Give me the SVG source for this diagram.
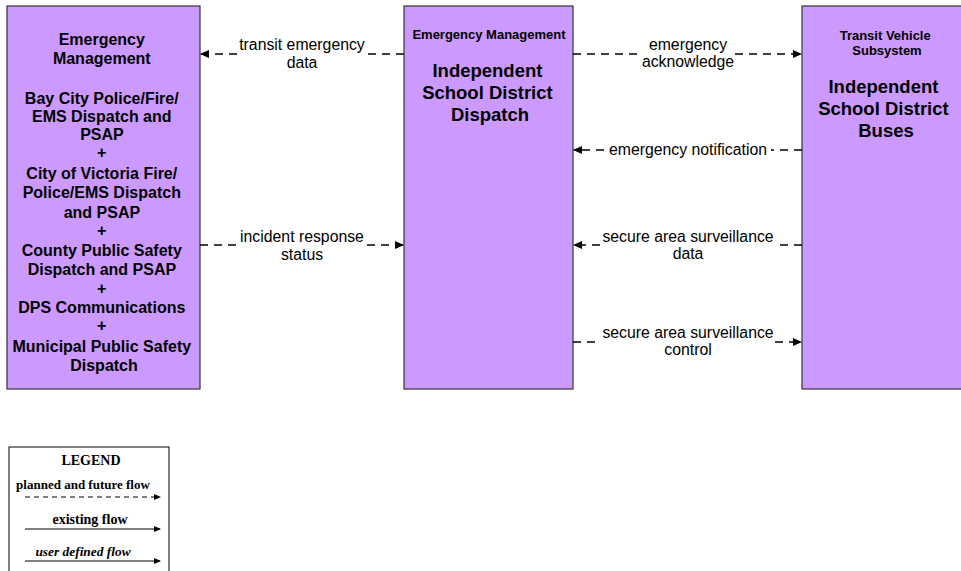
<svg xmlns="http://www.w3.org/2000/svg" width="961" height="571" viewBox="0 0 961 571">
<style>
.box{fill:#CC99FF;stroke:#333;stroke-width:1.2}
.t{font-family:"Liberation Sans",Arial,sans-serif;font-weight:bold;text-anchor:middle;fill:#000}
.big{font-size:16px}
.sub{font-size:13px}
.title{font-size:18.5px}
.lbl{font-family:"Liberation Sans",Arial,sans-serif;font-size:15.8px;text-anchor:middle;fill:#000}
.flow{fill:none;stroke:#000;stroke-width:1.5;stroke-dasharray:8 6}
.lg{font-family:"Liberation Serif","Times New Roman",serif;font-weight:bold;text-anchor:middle;fill:#000}
</style>
<defs>
<marker id="ah" markerWidth="9" markerHeight="8" refX="8" refY="4" orient="auto" markerUnits="userSpaceOnUse">
<path d="M0,0 L9,4 L0,8 Z" fill="#000"/>
</marker>
<marker id="ahs" markerWidth="7" markerHeight="6" refX="6" refY="3" orient="auto" markerUnits="userSpaceOnUse">
<path d="M0,0 L7,3 L0,6 Z" fill="#000"/>
</marker>
</defs>
<rect width="961" height="571" fill="#fff"/>
<g id="em-left">
<rect class="box" x="7" y="6" width="193" height="383"/>
<text class="t big" x="104">
<tspan x="104" y="45">Emergency</tspan>
<tspan x="104" y="64">Management</tspan>
<tspan x="104" y="104">Bay City Police/Fire/</tspan>
<tspan x="104" y="122">EMS Dispatch and</tspan>
<tspan x="104" y="140">PSAP</tspan>
<tspan x="104" y="158">+</tspan>
<tspan x="104" y="179">City of Victoria Fire/</tspan>
<tspan x="104" y="198">Police/EMS Dispatch</tspan>
<tspan x="104" y="218">and PSAP</tspan>
<tspan x="104" y="236">+</tspan>
<tspan x="104" y="256">County Public Safety</tspan>
<tspan x="104" y="275">Dispatch and PSAP</tspan>
<tspan x="104" y="294">+</tspan>
<tspan x="104" y="313">DPS Communications</tspan>
<tspan x="104" y="331">+</tspan>
<tspan x="104" y="352">Municipal Public Safety</tspan>
<tspan x="104" y="371">Dispatch</tspan>
</text>
</g>
<g id="isd-dispatch">
<rect class="box" x="404" y="6" width="169" height="383"/>
<text class="t sub" x="489" y="39">Emergency Management</text>
<text class="t title">
<tspan x="490" y="77">Independent</tspan>
<tspan x="490" y="99">School District</tspan>
<tspan x="490" y="121">Dispatch</tspan>
</text>
</g>
<g id="isd-buses">
<rect class="box" x="802" y="6" width="170" height="383"/>
<text class="t sub">
<tspan x="887" y="40">Transit Vehicle</tspan>
<tspan x="887" y="55">Subsystem</tspan>
</text>
<text class="t title">
<tspan x="886" y="93">Independent</tspan>
<tspan x="886" y="115">School District</tspan>
<tspan x="886" y="137">Buses</tspan>
</text>
</g>
<g id="connectors">
<path class="flow" d="M404,54 L368,54 M237,54 L201,54" marker-end="url(#ah)"/>
<text class="lbl"><tspan x="302" y="50">transit emergency</tspan><tspan x="302" y="68">data</tspan></text>
<path class="flow" d="M573,54 L640,54 M735,54 L801,54" marker-end="url(#ah)"/>
<text class="lbl"><tspan x="688" y="50">emergency</tspan><tspan x="688" y="67">acknowledge</tspan></text>
<path class="flow" d="M802,150 L771,150 M604,150 L574,150" marker-end="url(#ah)"/>
<text class="lbl" x="688" y="155">emergency notification</text>
<path class="flow" d="M200,245 L237,245 M367,245 L403,245" marker-end="url(#ah)"/>
<text class="lbl"><tspan x="302" y="242">incident response</tspan><tspan x="302" y="260">status</tspan></text>
<path class="flow" d="M802,245 L775,245 M600,245 L574,245" marker-end="url(#ah)"/>
<text class="lbl"><tspan x="688" y="242">secure area surveillance</tspan><tspan x="688" y="259">data</tspan></text>
<path class="flow" d="M573,342 L600,342 M775,342 L801,342" marker-end="url(#ah)"/>
<text class="lbl"><tspan x="688" y="338">secure area surveillance</tspan><tspan x="688" y="355">control</tspan></text>
</g>
<g id="legend">
<rect x="9" y="447" width="160" height="130" fill="#fff" stroke="#000" stroke-width="1"/>
<text class="lg" x="91" y="465" font-size="14">LEGEND</text>
<text class="lg" x="83" y="489" font-size="13">planned and future flow</text>
<path d="M25,497 L160,497" stroke="#000" stroke-width="1" stroke-dasharray="5 4" marker-end="url(#ahs)"/>
<text class="lg" x="90" y="524" font-size="14">existing flow</text>
<path d="M25,529 L160,529" stroke="#000" stroke-width="1" marker-end="url(#ahs)"/>
<text class="lg" x="83" y="556" font-size="13.4" font-style="italic">user defined flow</text>
<path d="M25,561 L160,561" stroke="#000" stroke-width="1" marker-end="url(#ahs)"/>
</g>
</svg>
